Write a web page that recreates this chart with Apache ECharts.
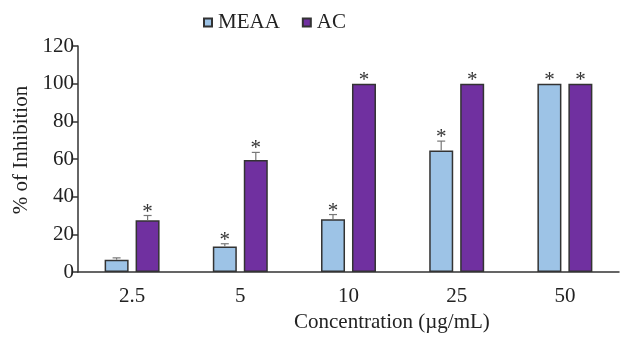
<!DOCTYPE html>
<html><head><meta charset="utf-8">
<script src="https://cdn.jsdelivr.net/npm/echarts@6/dist/echarts.min.js"></script>
<style>html,body{margin:0;padding:0;background:#fff}#c{width:621px;height:337px}</style>
</head><body><div id="c"></div>
<script>
const categories = ['2.5', '5', '10', '25', '50'];
const meaa = [6.5, 13.5, 28, 64.5, 100];
const meaaErr = [1, 1.5, 2.5, 5, 0];
const meaaStar = [false, true, true, true, true];
const ac = [27.5, 59.5, 100, 100, 100];
const acErr = [2.5, 4, 0, 0, 0];
const acStar = [true, true, true, true, true];
const yTicks = [0, 20, 40, 60, 80, 100, 120];

const FONT = 'Liberation Serif';
const chart = echarts.init(document.getElementById('c'));

function errSeries(name, vals, errs, stars, offsetIdx) {
  return {
    type: 'custom', name: name + '_err', z: 5, silent: true,
    data: vals.map((v, i) => [i, v, errs[i], stars[i] ? 1 : 0]),
    renderItem: function (params, api) {
      const i = api.value(0), v = api.value(1), e = api.value(2), s = api.value(3);
      const base = api.coord([i, v]);
      const top = api.coord([i, v + e]);
      const bw = 24, gap = 7;
      const x = base[0] + (offsetIdx === 0 ? -(bw + gap) / 2 : (bw + gap) / 2);
      const children = [];
      if (e > 0) {
        children.push({ type: 'line', shape: { x1: x, y1: base[1], x2: x, y2: top[1] }, style: { stroke: '#777', lineWidth: 1.2 } });
        children.push({ type: 'line', shape: { x1: x - 4, y1: top[1], x2: x + 4, y2: top[1] }, style: { stroke: '#777', lineWidth: 1.2 } });
      }
      if (s) {
        children.push({ type: 'text', style: { text: '*', x: x, y: top[1] + 7, textAlign: 'center', textVerticalAlign: 'bottom', font: '21px ' + FONT, fill: '#333' } });
      }
      return { type: 'group', children: children };
    }
  };
}

chart.setOption({
  animation: false,
  textStyle: { fontFamily: FONT },
  legend: {
    top: 7, left: 198, itemWidth: 8, itemHeight: 8, itemGap: 22,
    icon: 'rect',
    data: ['MEAA', 'AC'],
    textStyle: { fontFamily: FONT, fontSize: 21, color: '#222', padding: [0, 0, 0, 1] }
  },
  grid: { left: 78, right: 2, top: 46, bottom: 65 },
  xAxis: {
    type: 'category', data: categories,
    axisLine: { lineStyle: { color: '#333', width: 1.5 } },
    axisTick: { length: 5, lineStyle: { color: '#333', width: 1.5 } },
    axisLabel: { fontFamily: FONT, fontSize: 21, color: '#222', margin: 14 }
  },
  yAxis: {
    type: 'value', min: 0, max: 120, interval: 20,
    name: '% of Inhibition', nameLocation: 'middle', nameGap: 43, nameRotate: 90,
    nameTextStyle: { fontFamily: FONT, fontSize: 21, color: '#222', padding: [0, 0, 0, 18] },
    splitLine: { show: false },
    axisLine: { show: true, lineStyle: { color: '#333', width: 1.5 } },
    axisTick: { show: true, length: 5, lineStyle: { color: '#333', width: 1.5 } },
    axisLabel: { fontFamily: FONT, fontSize: 21, color: '#222', margin: 4,
      formatter: v => yTicks.includes(v) ? String(v) : '' }
  },
  graphic: [{
    type: 'text', left: 294, top: 312,
    style: { text: 'Concentration (µg/mL)', font: '21px ' + FONT, fill: '#222' }
  }],
  series: [
    { name: 'MEAA', type: 'bar', data: meaa, barWidth: 24, barGap: '29%',
      itemStyle: { color: '#9DC3E6', borderColor: '#333', borderWidth: 1.5 } },
    { name: 'AC', type: 'bar', data: ac, barWidth: 24,
      itemStyle: { color: '#7030A0', borderColor: '#333', borderWidth: 1.5 } },
    errSeries('MEAA', meaa, meaaErr, meaaStar, 0),
    errSeries('AC', ac, acErr, acStar, 1)
  ]
});
</script></body></html>
